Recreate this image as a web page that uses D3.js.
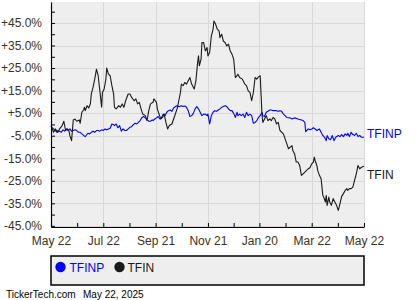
<!DOCTYPE html>
<html>
<head>
<meta charset="utf-8">
<script src="https://cdn.jsdelivr.net/npm/d3@7"></script>
<style>
  body { margin: 0; background: #fff; }
  text { font-family: "Liberation Sans", Arial, sans-serif; }
</style>
</head>
<body>
<div id="chart"></div>
<script>
// dates are day offsets from the first day of the window
var startDay = "2024-05-22", endDay = "2025-05-22";
var tickDays = ["2024-05-22", "2024-07-22", "2024-09-21", "2024-11-21", "2025-01-20", "2025-03-22", "2025-05-22"];
var tickLabels = ["May 22", "Jul 22", "Sep 21", "Nov 21", "Jan 20", "Mar 22", "May 22"];
var yTicks = [-45, -35, -25, -15, -5, 5, 15, 25, 35, 45];
var yTickLabels = ["-45.0%", "-35.0%", "-25.0%", "-15.0%", "-5.0%", "+5.0%", "+15.0%", "+25.0%", "+35.0%", "+45.0%"];
var seriesNames = ["TFINP", "TFIN"];
var seriesColors = ["#0000ff", "#1a1a1a"];

var tfinDays = [0,3,5,8,10,13,15,17,19,21,22,24,26,28,30,33,34,36,38,39,40,42,44,46,47,49,51,53,55,57,
  59,60,62,64,65,67,69,71,73,74,76,79,81,83,85,87,90,92,94,97,99,101,103,105,107,110,112,114,116,119,
  120,123,124,126,128,130,132,134,136,138,141,143,145,147,149,151,152,154,156,158,160,162,164,167,169,171,172,173,175,176,
  178,180,182,183,185,187,189,190,192,194,196,197,199,201,203,205,207,209,211,213,215,217,218,220,223,226,228,230,232,234,
  236,238,240,242,244,246,247,249,251,253,255,257,259,261,263,265,267,271,275,277,279,281,282,284,286,288,290,292,294,296,
  298,300,302,304,306,307,308,310,311,313,315,316,317,318,320,321,322,324,325,327,329,331,333,335,337,339,341,343,345,346,
  348,350,352,354,356,358,360,362,365];
var tfinValues = [-0.5,-3.5,-2.0,-3.5,-2.0,-0.5,1.4,-2.7,-2.0,-3.0,-4.9,-7.2,2.0,2.4,1.4,2.0,0.5,5.4,6.4,7.6,
  6.1,8.3,7.3,9.3,13.5,16.4,20.1,24.5,21.6,14.9,7.6,14.2,15.7,20.1,25.0,22.3,21.6,17.2,13.5,7.6,
  6.9,8.3,7.6,9.1,7.6,10.5,13.5,13.5,12.0,10.5,11.3,9.1,9.8,6.9,4.6,3.9,1.7,6.1,9.1,9.8,
  11.3,9.8,6.9,4.6,2.4,3.1,4.6,0.9,-2.0,-0.5,0.2,2.4,4.6,6.9,10.5,14.2,17.9,17.2,18.6,17.9,
  19.4,20.8,17.9,15.7,19.4,27.5,30.4,26.0,29.0,36.3,36.3,32.6,34.1,30.4,31.9,39.3,42.2,45.9,44.4,42.2,
  41.5,38.5,40.0,37.0,36.3,34.8,35.6,32.6,31.2,29.0,20.8,21.6,22.3,20.8,20.1,17.9,17.2,14.9,14.2,10.5,
  14.2,20.8,20.1,21.1,21.6,4.6,0.9,2.4,3.9,1.7,2.4,1.7,3.1,2.4,0.2,0.9,-2.7,-4.2,-8.6,-10.8,
  -10.1,-9.4,-11.6,-13.0,-16.7,-16.7,-18.2,-22.6,-21.9,-21.2,-20.4,-19.7,-19.2,-17.5,-16.7,-14.5,-16.0,-18.2,-20.4,-22.6,
  -24.1,-27.8,-31.5,-32.2,-34.4,-31.5,-35.9,-32.2,-34.4,-35.9,-32.9,-34.4,-35.9,-38.1,-35.1,-31.9,-30.7,-29.3,-28.5,-29.3,
  -28.5,-28.5,-27.8,-24.8,-21.9,-18.2,-19.7,-19.0,-18.6];

var tfinpDays = [0,3,5,7,8,10,12,14,16,18,20,22,24,26,28,30,32,34,36,38,40,41,43,45,47,49,51,53,55,57,
  59,61,63,65,67,69,71,73,74,76,78,80,82,84,86,88,90,92,94,96,98,100,102,104,106,108,110,112,114,116,
  118,119,121,123,125,127,129,131,133,135,137,139,141,143,145,147,149,150,152,154,156,158,160,162,164,166,168,170,172,174,
  176,178,180,182,183,185,187,189,191,193,195,197,199,201,203,205,207,209,211,213,215,217,218,220,222,224,226,228,230,232,
  234,236,238,240,242,244,246,247,249,251,253,255,257,259,261,263,265,267,269,271,273,275,279,281,284,288,292,294,296,297,
  300,302,304,306,308,310,313,315,317,319,321,322,324,326,328,330,332,335,337,339,341,343,345,346,348,350,352,354,356,358,
  360,362,365];
var tfinpValues = [-1.0,-2.0,-2.7,-3.5,-2.7,-3.0,-3.5,-2.4,-3.0,-2.0,-2.7,-2.0,-3.0,-2.7,-2.4,-2.7,-3.5,-3.5,-4.2,-4.9,
  -5.4,-4.9,-3.9,-4.2,-3.5,-3.0,-3.5,-2.7,-2.7,-3.0,-2.4,-2.7,-2.0,-2.4,-2.0,-1.7,0.2,-0.1,-0.5,0.2,
  -1.5,-0.5,-3.0,-2.0,-2.7,-2.7,-2.0,-1.3,-1.0,-0.1,0.5,0.2,0.9,1.7,3.1,3.5,2.9,2.0,1.4,1.4,
  2.0,1.7,2.4,2.9,3.5,2.4,3.1,4.6,3.9,5.4,6.1,6.4,5.8,7.3,7.9,8.3,7.9,7.9,8.3,7.9,
  8.2,7.6,6.1,3.5,3.9,4.9,6.9,7.9,6.9,5.4,3.9,4.6,4.5,3.9,4.6,0.2,3.9,5.4,6.1,5.8,
  6.4,6.9,7.6,7.9,8.3,7.9,6.9,6.1,6.1,4.9,3.1,5.4,3.9,4.6,3.9,4.6,3.1,5.4,3.9,4.6,
  3.9,0.5,0.9,1.7,3.1,3.9,5.4,3.9,3.5,5.4,5.8,6.4,6.4,6.1,6.1,6.1,5.8,6.1,5.8,4.6,
  3.9,3.1,2.9,2.4,2.9,2.4,2.0,1.7,0.9,-3.2,-2.0,-2.4,-2.0,-1.5,-2.0,-2.7,-2.0,-3.5,-4.9,-5.7,
  -7.2,-4.9,-6.4,-6.8,-4.9,-7.2,-5.7,-4.9,-5.4,-4.5,-5.4,-4.2,-4.9,-3.9,-5.4,-3.5,-4.5,-4.9,-3.9,-5.4,
  -4.9,-5.7,-5.7];

var W = 420, H = 300;
var labelColor = "#3b3120";
var parse = d3.timeParse("%Y-%m-%d");
var start = parse(startDay), end = parse(endDay);
var tickDates = tickDays.map(parse);
var minorDates = d3.pairs(tickDates).map(function(p) { return new Date((+p[0] + +p[1]) / 2); });

var x = d3.scaleTime().domain([start, end]).range([51, 364]);
var y = d3.scaleLinear().domain([-45.5, 54.3]).range([227, 2]);

function toPoints(days, values) {
  return days.map(function(d, i) { return {date: d3.timeDay.offset(start, d), value: values[i]}; });
}
var series = [toPoints(tfinpDays, tfinpValues), toPoints(tfinDays, tfinValues)];

var svg = d3.select("#chart").append("svg")
  .attr("width", W).attr("height", H);

// plot background
svg.append("rect")
  .attr("x", x.range()[0]).attr("y", y.range()[1])
  .attr("width", x.range()[1] - x.range()[0])
  .attr("height", y.range()[0] - y.range()[1])
  .attr("fill", "#eeeeee");

// grid
svg.append("g").selectAll("line").data(yTicks).join("line")
  .attr("x1", x.range()[0]).attr("x2", x.range()[1])
  .attr("y1", function(d) { return Math.round(y(d)) + 0.5; })
  .attr("y2", function(d) { return Math.round(y(d)) + 0.5; })
  .attr("stroke", "#d8d8d8");
svg.append("g").selectAll("line").data(tickDates).join("line")
  .attr("x1", function(d) { return Math.round(x(d)) + 0.5; })
  .attr("x2", function(d) { return Math.round(x(d)) + 0.5; })
  .attr("y1", y.range()[1]).attr("y2", y.range()[0])
  .attr("stroke", "#d8d8d8");

// lines
var line = d3.line()
  .x(function(d) { return x(d.date); })
  .y(function(d) { return y(d.value); });
svg.append("g").selectAll("path").data(series).join("path")
  .attr("d", line)
  .attr("fill", "none")
  .attr("stroke", function(d, i) { return seriesColors[i]; })
  .attr("stroke-width", 1.1)
  .attr("stroke-linejoin", "round");

// end labels
var endOffsets = [1, 12.5];
svg.append("g").selectAll("text").data(series).join("text")
  .attr("x", x.range()[1] + 3)
  .attr("y", function(d, i) { return y(d[d.length - 1].value) + endOffsets[i]; })
  .attr("fill", function(d, i) { return seriesColors[i]; })
  .attr("font-size", 12)
  .text(function(d, i) { return seriesNames[i]; });

// axes
var yAxis = svg.append("g")
  .attr("transform", "translate(" + x.range()[0] + ",0)")
  .call(d3.axisLeft(y).tickValues(yTicks).tickSizeInner(-4).tickSizeOuter(0).tickPadding(9)
    .tickFormat(function(d, i) { return yTickLabels[i]; }));
svg.append("g")
  .attr("transform", "translate(" + x.range()[0] + ",0)")
  .call(d3.axisLeft(y).tickValues(yTicks.map(function(v) { return v + 5; })).tickSize(-4).tickFormat(""))
  .select(".domain").remove();

var xAxis = svg.append("g")
  .attr("transform", "translate(0," + y.range()[0] + ")")
  .call(d3.axisBottom(x).tickValues(tickDates).tickSizeInner(-4).tickSizeOuter(0).tickPadding(9)
    .tickFormat(function(d, i) { return tickLabels[i]; }));
svg.append("g")
  .attr("transform", "translate(0," + y.range()[0] + ")")
  .call(d3.axisBottom(x).tickValues(minorDates).tickSize(-4).tickFormat(""))
  .select(".domain").remove();

svg.selectAll(".domain").attr("stroke", "#000").attr("stroke-width", 1.2);
svg.selectAll(".tick line").attr("stroke", "#000");
svg.selectAll(".tick text")
  .attr("fill", labelColor)
  .attr("font-size", 12)
  .attr("font-family", "'Liberation Sans', Arial, sans-serif");

// legend
var legend = svg.append("g");
legend.append("rect")
  .attr("x", 51).attr("y", 256).attr("width", 313).attr("height", 29)
  .attr("fill", "#eeeeee").attr("stroke", "#000").attr("stroke-width", 1.5);
var legendX = [60.5, 119.5];
var item = legend.selectAll("g.item").data(seriesNames).join("g")
  .attr("class", "item")
  .attr("transform", function(d, i) { return "translate(" + legendX[i] + ",267)"; });
item.append("circle").attr("r", 5.2)
  .attr("fill", function(d, i) { return seriesColors[i]; });
item.append("text")
  .attr("x", function(d, i) { return i === 0 ? 9 : 8; })
  .attr("y", 4.5)
  .attr("font-size", 12)
  .attr("fill", function(d, i) { return seriesColors[i]; })
  .text(function(d) { return d; });

// footer
svg.append("text").attr("x", 6).attr("y", 298).attr("font-size", 10).attr("fill", "#000")
  .text("TickerTech.com");
svg.append("text").attr("x", 83).attr("y", 298).attr("font-size", 10).attr("fill", "#000")
  .text("May 22, 2025");
</script>
</body>
</html>
